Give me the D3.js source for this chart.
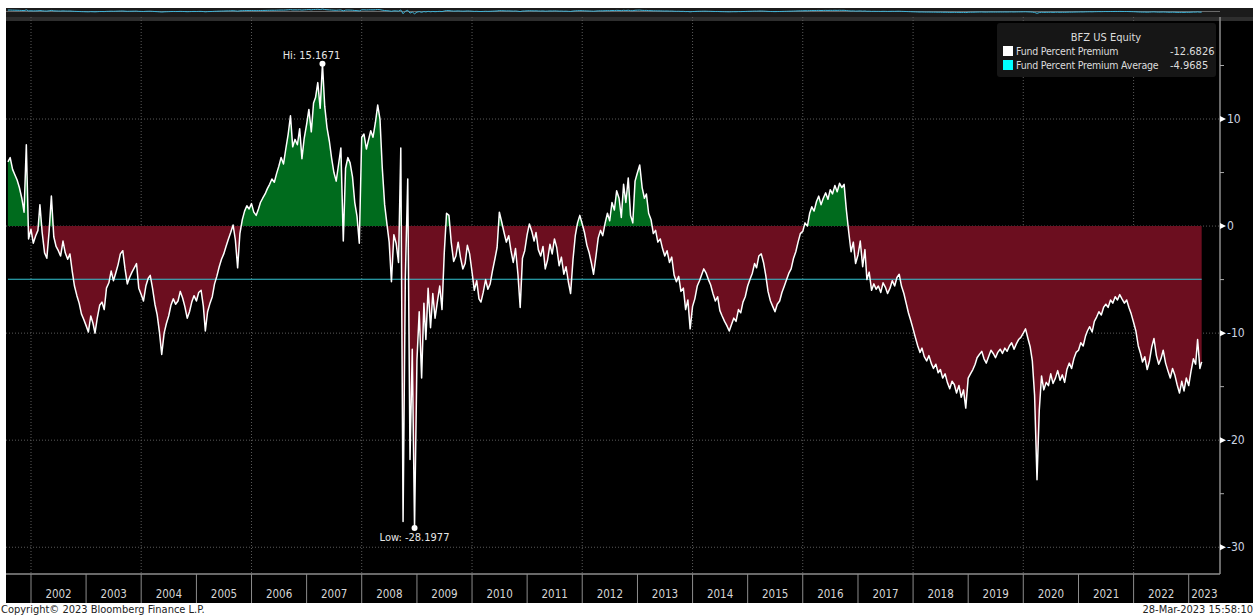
<!DOCTYPE html>
<html>
<head>
<meta charset="utf-8">
<script src="https://cdn.jsdelivr.net/npm/d3@7"></script>
<style>
    body { margin: 0; background: #fff; }
    svg text { font-family: "Liberation Sans Narrow", "DejaVu Sans Condensed", "Arial Narrow", sans-serif; }
</style>
</head>
<body>
<div id="chart"></div>
<script>
// fund percent premium, read twice a month (1st and 16th), starting aug 2001
const premium = [
    // 2001 (aug - dec)
    6.0, 6.4, 5.3, 4.8, 4.3, 3.6, 2.6, 1.3, 7.6, -1.2,
    // 2002
    -0.3, -1.6, -0.9, -0.4, 2.0, -0.6, -2.5, -3.0, -0.5, 2.8, -1.0, -1.9,
    -2.3, -2.8, -1.4, -2.5, -3.1, -2.6, -4.2, -5.6, -6.5, -7.2, -8.2, -8.7,
    // 2003
    -9.3, -9.9, -8.4, -9.1, -10.0, -8.6, -7.4, -7.1, -7.8, -5.8, -5.3, -4.2,
    -5.1, -4.4, -3.6, -2.6, -2.3, -4.0, -5.4, -4.8, -4.3, -3.9, -3.5, -5.8,
    // 2004
    -6.4, -7.0, -5.6, -4.9, -4.6, -5.8, -7.3, -8.3, -9.9, -12.0, -10.0, -9.1,
    -8.4, -7.4, -6.8, -7.3, -7.0, -6.1, -6.7, -7.5, -8.6, -8.0, -7.1, -6.5,
    // 2005
    -7.0, -6.2, -6.0, -7.5, -9.8, -8.0, -7.2, -6.6, -5.4, -4.7, -3.8, -3.1,
    -2.6, -1.9, -1.2, -0.6, 0.1, -1.3, -3.9, -0.7, 0.6, 1.4, 1.9, 1.6,
    // 2006
    2.1, 1.3, 1.0, 1.6, 2.2, 2.6, 3.0, 3.5, 3.9, 4.4, 4.1, 4.9,
    5.6, 6.4, 5.8, 7.2, 8.6, 10.3, 7.4, 8.1, 7.6, 9.1, 6.3, 8.2,
    // 2007
    9.5, 10.9, 8.8, 11.5, 12.0, 13.4, 11.0, 15.1671, 11.2, 9.2, 7.9, 6.3,
    5.0, 4.2, 5.8, 7.3, -1.4, 5.4, 6.4, 5.9, 4.6, 2.2, 0.9, -1.6,
    // 2008
    8.3, 8.6, 7.2, 8.1, 8.9, 8.3, 9.7, 11.3, 10.0, 5.5, 2.0, 0.2,
    -1.5, -5.2, -0.8, -1.6, -3.4, 7.3, -27.6, -4.8, 4.4, -21.8, -11.5, -28.1977,
    // 2009
    -12.5, -8.0, -14.2, -7.2, -10.6, -5.8, -9.5, -6.3, -8.6, -7.1, -5.6, -7.8,
    -2.5, 1.2, 1.0, -1.5, -3.3, -2.8, -1.5, -2.9, -4.0, -3.5, -1.8, -2.6,
    // 2010
    -4.3, -6.0, -5.1, -6.8, -7.1, -6.2, -5.0, -5.9, -5.4, -4.2, -3.1, -2.0,
    1.3, 0.4, -0.6, -1.5, -0.9, -2.3, -3.4, -2.1, -4.5, -7.6, -3.0, -2.3,
    // 2011
    -0.8, 0.2, -0.5, -1.4, -0.6, -2.2, -2.8, -1.9, -4.0, -3.2, -1.7, -2.6,
    -1.2, -2.0, -3.7, -2.9, -4.5, -3.8, -5.2, -6.3, -3.1, -0.9, 0.3, 1.0,
    // 2012
    0.2, -0.6, -1.8, -2.5, -3.4, -4.5, -2.8, -1.1, -0.4, -0.9, 0.3, 1.2,
    0.5, 2.2, 1.5, 3.3, 2.6, 0.8, 3.9, 2.2, 4.5, 1.0, 0.3, 4.2,
    // 2013
    5.0, 5.7, 3.6, 2.6, 3.0, 1.2, 0.6, -0.7, -0.4, -1.5, -1.2, -2.1,
    -2.8, -2.3, -3.4, -2.9, -4.6, -5.2, -4.7, -6.1, -5.8, -7.8, -6.9, -9.6,
    // 2014
    -7.5, -6.8, -5.6, -5.1, -4.6, -4.0, -4.4, -5.0, -5.5, -6.3, -7.0, -6.6,
    -7.9, -8.4, -8.9, -9.3, -9.8, -9.2, -8.6, -8.9, -7.8, -8.1, -7.1, -6.6,
    // 2015
    -5.6, -5.0, -4.4, -3.5, -3.9, -2.8, -2.6, -3.4, -4.6, -6.1, -7.0, -7.5,
    -8.0, -7.3, -7.0, -6.2, -5.6, -5.0, -4.4, -4.0, -3.0, -2.4, -1.5, -0.7,
    // 2016
    -0.5, 0.3, 0.0, 1.2, 1.8, 1.4, 2.3, 2.8, 2.0, 2.6, 3.1, 2.5,
    3.4, 3.0, 3.8, 3.2, 4.0, 3.6, 3.9, 1.5, -0.6, -2.4, -1.5, -3.5,
    // 2017
    -2.7, -1.4, -3.8, -2.2, -5.0, -4.3, -6.0, -5.4, -5.9, -5.6, -6.2, -5.3,
    -5.7, -6.3, -5.8, -5.1, -5.6, -4.8, -4.5, -5.6, -6.3, -7.2, -8.1, -8.8,
    // 2018
    -9.6, -10.4, -11.2, -11.8, -11.4, -12.2, -12.6, -12.1, -12.8, -13.3, -12.9, -13.7,
    -13.4, -14.2, -13.8, -14.6, -15.2, -14.5, -14.8, -15.6, -14.9, -16.0, -15.3, -17.0,
    // 2019
    -14.2, -13.8, -13.4, -12.9, -12.3, -12.0, -11.7, -12.4, -12.8, -12.2, -11.6, -11.9,
    -12.3, -11.8, -11.5, -11.9, -11.4, -11.7, -11.2, -10.9, -11.5, -11.0, -10.6, -10.4,
    // 2020
    -10.0, -9.6, -10.5, -11.3, -12.6, -15.8, -23.7, -17.2, -14.0, -15.3, -14.6, -14.9,
    -13.8, -14.7, -14.2, -13.5, -14.4, -13.9, -14.6, -13.4, -12.8, -13.3, -12.4, -11.8,
    // 2021
    -11.6, -10.9, -11.2, -10.3, -9.8, -9.4, -9.9, -8.9, -8.5, -8.0, -8.3, -7.6,
    -7.3, -7.6, -6.9, -7.2, -6.6, -6.9, -6.4, -6.8, -7.2, -6.9, -7.6, -8.2,
    // 2022
    -9.0, -9.8, -11.2, -11.9, -12.7, -12.2, -13.4, -12.6, -11.3, -10.5, -12.1, -12.9,
    -12.4, -11.6, -12.8, -13.5, -14.2, -13.3, -13.9, -14.8, -15.6, -14.5, -15.4, -14.2,
    // 2023 (jan - mar)
    -14.9, -13.6, -12.4, -12.9, -10.6, -13.3
];
const lastDate = "2023-03-28";
const lastValue = -12.6826;
const premiumAverage = -4.9685;

// axis ticks
const years = [2002, 2003, 2004, 2005, 2006, 2007, 2008, 2009, 2010, 2011, 2012,
    2013, 2014, 2015, 2016, 2017, 2018, 2019, 2020, 2021, 2022, 2023];
const yTicks = [10, 0, -10, -20, -30];
const yMinorTicks = [15, 5, -5, -15, -25];

// legend
const legendTitle = "BFZ US Equity";
const legendLabels = ["Fund Percent Premium", "Fund Percent Premium Average"];
const legendValues = ["-12.6826", "-4.9685"];
const legendColors = ["#ffffff", "#00ffff"];

class PremiumChart {
    constructor(_parentElement, _data) {
        this.parentElement = _parentElement;
        this.data = _data;
        this.initVis();
    }

    initVis() {
        const vis = this;

        vis.W = 1256;
        vis.H = 616;
        vis.plot = { left: 6, right: 1220, top: 17, bottom: 574 };

        vis.svg = d3.select(`#${vis.parentElement}`)
            .append("svg")
            .attr("width", vis.W)
            .attr("height", vis.H);

        // backgrounds
        vis.svg.append("rect").attr("width", vis.W).attr("height", vis.H).attr("fill", "#fff");
        vis.svg.append("rect")
            .attr("x", 6).attr("y", 8)
            .attr("width", 1247).attr("height", 595)
            .attr("fill", "#000");

        // make scales
        vis.x = d3.scaleTime()
            .domain([new Date(2002, 0, 1), new Date(2023, 0, 1)])
            .range([31, 1188.7]);
        vis.y = d3.scaleLinear()
            .domain([-32.5, 19.53])
            .range([vis.plot.bottom, vis.plot.top]);

        vis.drawNavigator();
        vis.updateVis();
    }

    drawNavigator() {
        const vis = this;

        // strip across the top with a small copy of the series
        vis.svg.append("rect")
            .attr("x", 6).attr("y", 8).attr("width", 1247).attr("height", 9)
            .attr("fill", "#1b1b1b");
        vis.svg.append("rect")
            .attr("x", 6).attr("y", 17).attr("width", 1247).attr("height", 4)
            .attr("fill", "#2e2e2e");

        const navY = d3.scaleLinear().domain([-30, 16]).range([14, 9]);
        vis.svg.append("line")
            .attr("x1", 6).attr("x2", 1220)
            .attr("y1", 11.5).attr("y2", 11.5)
            .attr("stroke", "#6a6a6a").attr("stroke-width", 1);
        vis.svg.append("path")
            .datum(vis.data)
            .attr("fill", "none")
            .attr("stroke", "#3fb4d8")
            .attr("stroke-width", 1)
            .attr("d", d3.line().x(d => vis.x(d.date)).y(d => navY(d.value)));
    }

    updateVis() {
        const vis = this;
        const p = vis.plot;
        const y0 = vis.y(0);
        const fs = "11px";

        // vertical grid every two years
        vis.svg.append("g")
            .selectAll("line")
            .data(years.filter(yr => yr % 2 === 0))
            .join("line")
            .attr("x1", d => vis.x(new Date(d, 0, 1)))
            .attr("x2", d => vis.x(new Date(d, 0, 1)))
            .attr("y1", p.top)
            .attr("y2", p.bottom)
            .attr("stroke", "#5a5a5a")
            .attr("stroke-dasharray", "1,2");

        // horizontal grid
        vis.svg.append("g")
            .selectAll("line")
            .data(yTicks)
            .join("line")
            .attr("x1", p.left)
            .attr("x2", p.right)
            .attr("y1", d => vis.y(d))
            .attr("y2", d => vis.y(d))
            .attr("stroke", "#5a5a5a")
            .attr("stroke-dasharray", "1,2");

        // clip paths for above / below zero
        const defs = vis.svg.append("defs");
        defs.append("clipPath").attr("id", "clip-pos")
            .append("rect").attr("x", 0).attr("y", 0).attr("width", vis.W).attr("height", y0);
        defs.append("clipPath").attr("id", "clip-neg")
            .append("rect").attr("x", 0).attr("y", y0).attr("width", vis.W).attr("height", vis.H - y0);

        const area = d3.area()
            .x(d => vis.x(d.date))
            .y0(y0)
            .y1(d => vis.y(d.value));

        vis.svg.append("path")
            .datum(vis.data)
            .attr("clip-path", "url(#clip-pos)")
            .attr("fill", "#006b1d")
            .attr("d", area);
        vis.svg.append("path")
            .datum(vis.data)
            .attr("clip-path", "url(#clip-neg)")
            .attr("fill", "#6c0e1f")
            .attr("d", area);

        // average line
        const first = vis.data[0], last = vis.data[vis.data.length - 1];
        vis.svg.append("line")
            .attr("x1", vis.x(first.date))
            .attr("x2", vis.x(last.date))
            .attr("y1", vis.y(premiumAverage))
            .attr("y2", vis.y(premiumAverage))
            .attr("stroke", "#35c4d2")
            .attr("stroke-width", 1);

        // premium line
        vis.svg.append("path")
            .datum(vis.data)
            .attr("fill", "none")
            .attr("stroke", "#ffffff")
            .attr("stroke-width", 1.5)
            .attr("stroke-linejoin", "round")
            .attr("d", d3.line().x(d => vis.x(d.date)).y(d => vis.y(d.value)));

        // hi / low markers
        const hi = vis.data.reduce((a, b) => (b.value > a.value ? b : a));
        const lo = vis.data.reduce((a, b) => (b.value < a.value ? b : a));
        [hi, lo].forEach(d => {
            vis.svg.append("circle")
                .attr("cx", vis.x(d.date))
                .attr("cy", vis.y(d.value))
                .attr("r", 3)
                .attr("fill", "#fff");
        });
        vis.svg.append("text")
            .attr("x", vis.x(hi.date) - 11)
            .attr("y", vis.y(hi.value) - 5)
            .attr("text-anchor", "middle")
            .attr("fill", "#e6e6e6")
            .attr("font-size", fs)
            .text(`Hi: ${hi.value.toFixed(4)}`);
        vis.svg.append("text")
            .attr("x", vis.x(lo.date))
            .attr("y", vis.y(lo.value) + 13)
            .attr("text-anchor", "middle")
            .attr("fill", "#e6e6e6")
            .attr("font-size", fs)
            .text(`Low: ${lo.value.toFixed(4)}`);

        // right axis
        vis.svg.append("line")
            .attr("x1", p.right).attr("x2", p.right)
            .attr("y1", p.top).attr("y2", p.bottom)
            .attr("stroke", "#8c8c8c").attr("stroke-width", 1.5);
        vis.svg.append("g")
            .selectAll("path")
            .data(yTicks)
            .join("path")
            .attr("d", d => `M${p.right},${vis.y(d) - 3}L${p.right + 6},${vis.y(d)}L${p.right},${vis.y(d) + 3}Z`)
            .attr("fill", "#fff");
        vis.svg.append("g")
            .selectAll("line")
            .data(yMinorTicks)
            .join("line")
            .attr("x1", p.right).attr("x2", p.right + 4)
            .attr("y1", d => vis.y(d)).attr("y2", d => vis.y(d))
            .attr("stroke", "#aaa");
        vis.svg.append("g")
            .selectAll("text")
            .data(yTicks)
            .join("text")
            .attr("x", p.right + 7)
            .attr("y", d => vis.y(d) + 4)
            .attr("fill", "#ccd4e2")
            .attr("font-size", "12px")
            .text(d => (d < 0 ? "-" + Math.abs(d) : d));

        // bottom axis
        vis.svg.append("line")
            .attr("x1", p.left).attr("x2", p.right)
            .attr("y1", p.bottom).attr("y2", p.bottom)
            .attr("stroke", "#8c8c8c").attr("stroke-width", 1.5);
        vis.svg.append("g")
            .selectAll("line")
            .data(years)
            .join("line")
            .attr("x1", d => vis.x(new Date(d, 0, 1)))
            .attr("x2", d => vis.x(new Date(d, 0, 1)))
            .attr("y1", p.bottom)
            .attr("y2", 603)
            .attr("stroke", "#8c8c8c");
        vis.svg.append("g")
            .selectAll("text")
            .data(years)
            .join("text")
            .attr("x", d => {
                const a = vis.x(new Date(d, 0, 1));
                const b = Math.min(vis.x(new Date(d + 1, 0, 1)), p.right);
                return (a + b) / 2;
            })
            .attr("y", 598)
            .attr("text-anchor", "middle")
            .attr("fill", "#d6d6d6")
            .attr("font-size", "11.5px")
            .text(d => d);

        // legend
        const lg = vis.svg.append("g");
        lg.append("rect")
            .attr("x", 997).attr("y", 23)
            .attr("width", 219).attr("height", 54)
            .attr("rx", 3)
            .attr("fill", "#161616");
        lg.append("text")
            .attr("x", 1106).attr("y", 41)
            .attr("text-anchor", "middle")
            .attr("fill", "#dcdcdc")
            .attr("font-size", fs)
            .text(legendTitle);
        legendLabels.forEach((label, i) => {
            const ty = 55 + i * 14;
            lg.append("rect")
                .attr("x", 1003).attr("y", ty - 9)
                .attr("width", 10).attr("height", 10)
                .attr("fill", legendColors[i]);
            lg.append("text")
                .attr("x", 1016).attr("y", ty)
                .attr("fill", "#dcdcdc")
                .attr("font-size", "10.5px")
                .attr("letter-spacing", "-0.2px")
                .text(label);
            lg.append("text")
                .attr("x", 1170).attr("y", ty)
                .attr("fill", "#dcdcdc")
                .attr("font-size", fs)
                .text(legendValues[i]);
        });

        // footer
        vis.svg.append("text")
            .attr("x", 1).attr("y", 613)
            .attr("fill", "#222")
            .attr("font-size", "11px")
            .text("Copyright\u00a9 2023 Bloomberg Finance L.P.");
        vis.svg.append("text")
            .attr("x", 1253).attr("y", 613)
            .attr("text-anchor", "end")
            .attr("fill", "#222")
            .attr("font-size", "11px")
            .text("28-Mar-2023 15:58:10");
    }
}

// build dated series: 1st and 16th of each month from aug 2001
const series = premium.map((v, i) => ({
    date: new Date(2001, 7 + Math.floor(i / 2), i % 2 ? 16 : 1),
    value: v
}));
series.push({ date: d3.timeParse("%Y-%m-%d")(lastDate), value: lastValue });

new PremiumChart("chart", series);
</script>
</body>
</html>
